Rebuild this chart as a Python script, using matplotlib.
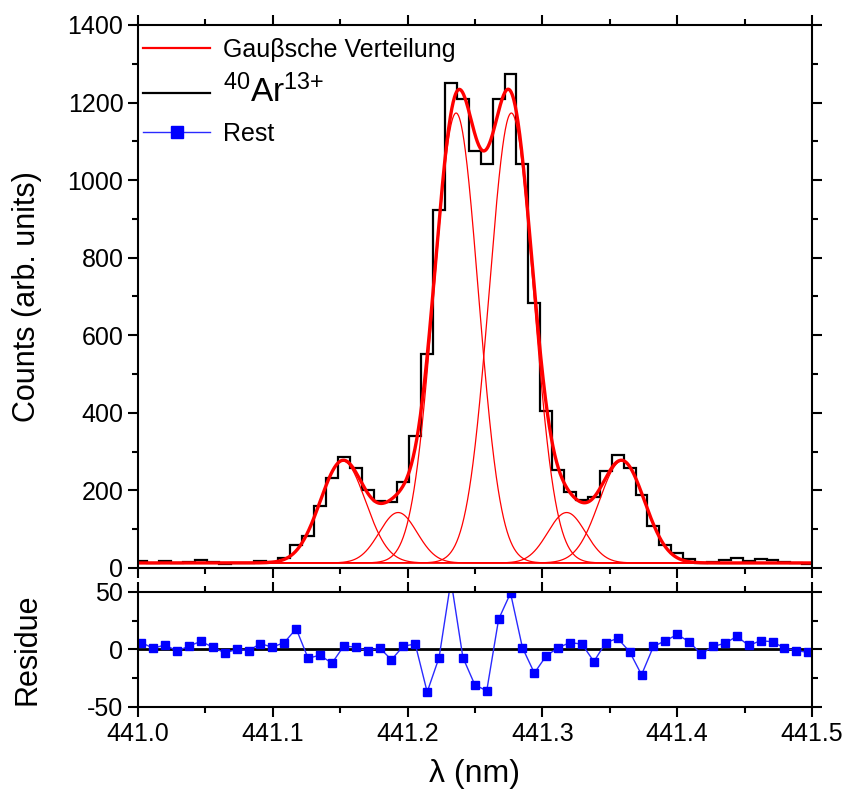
import numpy as np
import matplotlib
matplotlib.use('Agg')
import matplotlib.pyplot as plt
from matplotlib.lines import Line2D
from matplotlib.ticker import MultipleLocator

plt.rcParams['font.family'] = ['Liberation Sans', 'DejaVu Sans']
plt.rcParams['mathtext.fontset'] = 'custom'
plt.rcParams['mathtext.rm'] = 'Liberation Sans'
plt.rcParams['mathtext.default'] = 'regular'
plt.rcParams['axes.unicode_minus'] = False

# histogram bins (nm)
bin_start = 441.0025
bin_width = 0.008835

counts = [19, 14, 17, 12, 16, 20, 15, 10, 13, 12,
          18, 16, 27, 60, 82, 161, 233, 287, 257, 201,
          173, 169, 221, 341, 551, 923, 1250, 1209, 1075, 1041,
          1208, 1274, 1042, 684, 405, 253, 195, 175, 184, 250,
          291, 259, 188, 109, 58, 38, 22, 12, 16, 20,
          25, 18, 22, 21, 15, 13, 11]

residue = [6, 1, 4, -1.5, 3, 7, 2, -3, 0, -1,
           5, 2, 6, 18, -7.6, -5, -12, 3, 2, -1.5,
           1.5, -9, 3, 4.6, -37, -7, 60, -7, -30.7, -36,
           26.3, 49, 1.5, -20.5, -5.5, 1.5, 6, 4.6, -10.5, 6,
           9.6, -2, -22, 2.6, 7.6, 13, 6.7, -4, 2.6, 5.3,
           11.4, 3.5, 7.6, 6.7, 1.2, -1, -2.6]

# Gauss fit: six lines on a constant background
peak_center = [441.152, 441.193, 441.236, 441.277, 441.318, 441.359]
peak_height = [263, 130, 1160, 1160, 130, 263]
peak_sigma = [0.0168, 0.014, 0.0164, 0.0164, 0.014, 0.0168]
background = 13

centers = bin_start + bin_width * np.arange(len(counts))
edges = np.append(centers - bin_width / 2, centers[-1] + bin_width / 2)

xf = np.linspace(441.0, 441.5, 1500)
parts = [a * np.exp(-(xf - c) ** 2 / (2 * s ** 2))
         for c, a, s in zip(peak_center, peak_height, peak_sigma)]
total = background + np.sum(parts, axis=0)

fig = plt.figure(figsize=(8.45, 8.01), dpi=100)
ax = fig.add_axes([0.1633, 0.2909, 0.7976, 0.6779])
axr = fig.add_axes([0.1633, 0.1174, 0.7976, 0.1436])

ax.stairs(counts, edges, baseline=None, color='black', lw=1.6)
for p in parts:
    ax.plot(xf, background + p, color='red', lw=0.9)
ax.plot(xf, total, color='red', lw=2.4)

ax.set_xlim(441.0, 441.5)
ax.set_ylim(0, 1400)
ax.xaxis.set_major_locator(MultipleLocator(0.1))
ax.xaxis.set_minor_locator(MultipleLocator(0.05))
ax.yaxis.set_major_locator(MultipleLocator(200))
ax.yaxis.set_minor_locator(MultipleLocator(100))
ax.set_ylabel('Counts (arb. units)', fontsize=22)
ax.yaxis.set_label_coords(-0.142, 0.5)

axr.axhline(0, color='black', lw=2)
axr.plot(centers, residue, color='#2a2aff', lw=1, marker='s', ms=5.5,
         mfc='#0000ff', mec='#0000ff')
axr.set_xlim(441.0, 441.5)
axr.set_ylim(-50, 50)
axr.xaxis.set_major_locator(MultipleLocator(0.1))
axr.xaxis.set_minor_locator(MultipleLocator(0.05))
axr.yaxis.set_major_locator(MultipleLocator(50))
axr.yaxis.set_minor_locator(MultipleLocator(25))
axr.xaxis.set_major_formatter(matplotlib.ticker.FormatStrFormatter('%.1f'))
axr.set_ylabel('Residue', fontsize=22)
axr.yaxis.set_label_coords(-0.142, 0.5)
axr.set_xlabel('λ (nm)', fontsize=23, labelpad=10)

for a in (ax, axr):
    for sp in a.spines.values():
        sp.set_linewidth(1.5)
    a.tick_params(which='both', direction='out', top=True, right=True,
                  width=1.5, labelsize=18)
    a.tick_params(which='major', length=7)
    a.tick_params(which='minor', length=4)
ax.tick_params(labelbottom=False)

handles = [Line2D([], [], color='red', lw=1.6),
           Line2D([], [], color='black', lw=1.6),
           Line2D([], [], color='#2a2aff', lw=1, marker='s', ms=8,
                  mfc='#0000ff', mec='#0000ff')]
labels = ['Gauβsche Verteilung', '$^{40}$Ar$^{13{+}}$', 'Rest']
leg = ax.legend(handles, labels, loc='upper left', bbox_to_anchor=(0, 0.985),
                frameon=False, fontsize=18, handlelength=2.7,
                handletextpad=0.5, labelspacing=0.5, borderaxespad=0.1,
                borderpad=0.1)
leg.get_texts()[1].set_fontsize(24)

fig.savefig('out.png', dpi=100)
